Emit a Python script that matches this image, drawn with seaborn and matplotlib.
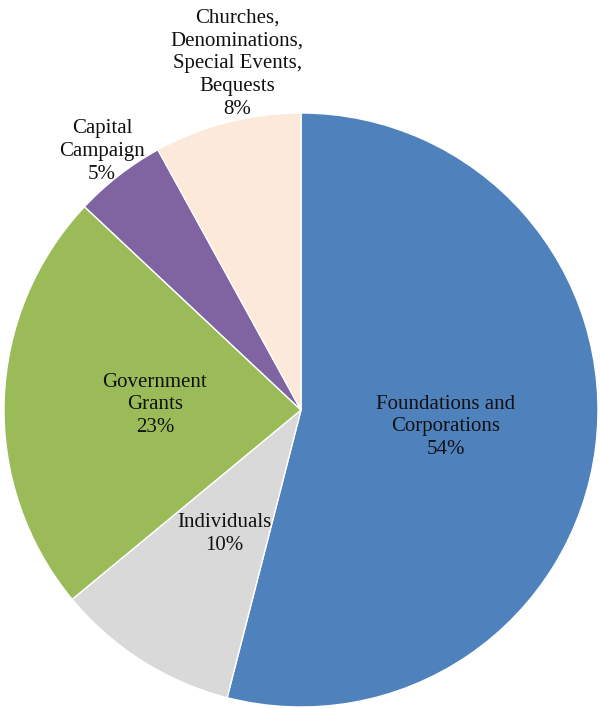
import matplotlib
matplotlib.use("Agg")
import matplotlib.pyplot as plt
import seaborn as sns

categories = ["Foundations and\nCorporations", "Individuals", "Government\nGrants",
              "Capital\nCampaign", "Churches,\nDenominations,\nSpecial Events,\nBequests"]
shares = [54, 10, 23, 5, 8]
colors = ["#4F81BD", "#D9D9D9", "#9BBB59", "#8064A2", "#FDE9D9"]

sns.set_theme(style="white")
plt.rcParams["font.family"] = ["Liberation Serif", "DejaVu Serif"]

fig = plt.figure(figsize=(6.01, 7.09), dpi=100)
ax = fig.add_axes([4 / 601, 2 / 709, 594 / 601, 594 / 709])
wedges, _ = ax.pie(shares, colors=colors, startangle=90, counterclock=False,
                   radius=1.0, wedgeprops=dict(edgecolor="white", linewidth=1.0))
ax.set_xlim(-1, 1)
ax.set_ylim(-1, 1)
ax.set_aspect("equal")
ax.axis("off")

label_pos = [(0.488, -0.057), (-0.259, -0.418), (-0.492, 0.017),
             (-0.670, 0.869), (-0.215, 1.165)]
for cat, val, (x, y) in zip(categories, shares, label_pos):
    ax.text(x, y, f"{cat}\n{val}%", ha="center", va="center", fontsize=15,
            color="#111111", linespacing=1.28, clip_on=False)

fig.savefig("out.png", dpi=100)
